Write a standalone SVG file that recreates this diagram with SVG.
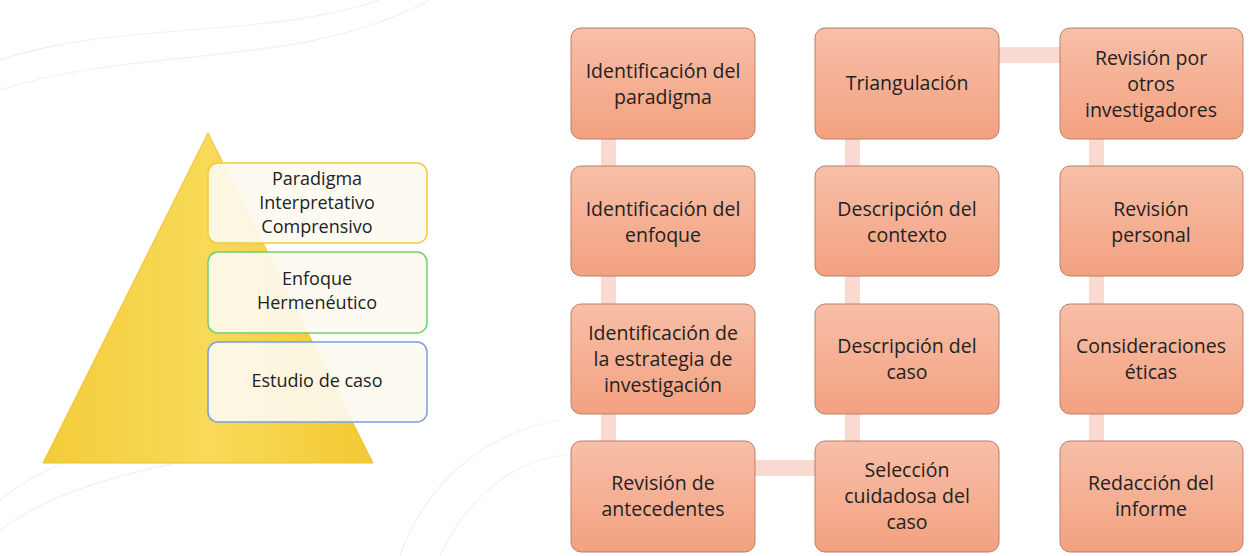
<svg xmlns="http://www.w3.org/2000/svg" width="1250" height="556" viewBox="0 0 1250 556">
<defs>
<linearGradient id="boxg" x1="0" y1="0" x2="0" y2="1">
<stop offset="0" stop-color="#f7bfa8"/>
<stop offset="1" stop-color="#f3a180"/>
</linearGradient>
<linearGradient id="pyr" x1="0" y1="0" x2="1" y2="0">
<stop offset="0" stop-color="#f3cc3a"/>
<stop offset="0.5" stop-color="#f8da58"/>
<stop offset="1" stop-color="#f3c934"/>
</linearGradient>
<style>
.box{fill:url(#boxg);stroke:#b8806a;stroke-width:1}
.t{font-family:"Open Sans","Liberation Sans",sans-serif;font-size:19.5px;fill:#222222;text-anchor:middle}
.p{font-family:"Open Sans","Liberation Sans",sans-serif;font-size:18px;fill:#222222;text-anchor:middle}
.lvl{fill:#fdfaf1;fill-opacity:0.9;stroke-width:1.5}
.con{fill:#f9d9d0}
.bg{fill:none;stroke:#f1f1f1;stroke-width:1.2}
</style>
</defs>
<rect width="1250" height="556" fill="#ffffff"/>
<g id="background">
<path class="bg" d="M0,60 C120,20 260,40 380,0"/>
<path class="bg" d="M0,90 C140,45 300,70 430,0"/>
<path class="bg" d="M0,500 C100,420 240,440 330,380"/>
<path class="bg" d="M0,530 C110,450 260,470 360,400"/>
<path class="bg" d="M400,556 C430,470 500,430 560,420"/>
<path class="bg" d="M440,556 C470,490 520,460 565,455"/>
</g>
<g id="connectors">
<rect class="con" x="601" y="139" width="15" height="302"/>
<rect class="con" x="845" y="139" width="15" height="302"/>
<rect class="con" x="1089" y="139" width="15" height="302"/>
<rect class="con" x="755" y="460" width="60" height="16"/>
<rect class="con" x="999" y="47" width="61" height="16"/>
</g>
<g id="pyramid">
<polygon points="208,133 43,463 373,463" fill="url(#pyr)" stroke="#e8c030" stroke-width="1"/>
</g>
<g id="lvl1"><rect class="lvl" x="208" y="163" width="219" height="80" rx="10" stroke="#f2c840"/>
<text class="p" x="317" y="185">Paradigma</text><text class="p" x="317" y="209">Interpretativo</text><text class="p" x="317" y="233">Comprensivo</text></g>
<g id="lvl2"><rect class="lvl" x="208" y="252" width="219" height="81" rx="10" stroke="#6fd070"/>
<text class="p" x="317" y="285">Enfoque</text><text class="p" x="317" y="309">Hermenéutico</text></g>
<g id="lvl3"><rect class="lvl" x="208" y="342" width="219" height="80" rx="10" stroke="#7a9ee0"/>
<text class="p" x="317" y="387">Estudio de caso</text></g>
<g id="n1"><rect class="box" x="571" y="28" width="184" height="111" rx="10"/><text class="t" x="663" y="78">Identificación del</text><text class="t" x="663" y="104">paradigma</text></g>
<g id="n2"><rect class="box" x="571" y="166" width="184" height="110" rx="10"/><text class="t" x="663" y="216">Identificación del</text><text class="t" x="663" y="242">enfoque</text></g>
<g id="n3"><rect class="box" x="571" y="304" width="184" height="110" rx="10"/><text class="t" x="663" y="340">Identificación de</text><text class="t" x="663" y="366">la estrategia de</text><text class="t" x="663" y="392">investigación</text></g>
<g id="n4"><rect class="box" x="571" y="441" width="184" height="111" rx="10"/><text class="t" x="663" y="490">Revisión de</text><text class="t" x="663" y="516">antecedentes</text></g>
<g id="n5"><rect class="box" x="815" y="28" width="184" height="111" rx="10"/><text class="t" x="907" y="90">Triangulación</text></g>
<g id="n6"><rect class="box" x="815" y="166" width="184" height="110" rx="10"/><text class="t" x="907" y="216">Descripción del</text><text class="t" x="907" y="242">contexto</text></g>
<g id="n7"><rect class="box" x="815" y="304" width="184" height="110" rx="10"/><text class="t" x="907" y="353">Descripción del</text><text class="t" x="907" y="379">caso</text></g>
<g id="n8"><rect class="box" x="815" y="441" width="184" height="111" rx="10"/><text class="t" x="907" y="477">Selección</text><text class="t" x="907" y="503">cuidadosa del</text><text class="t" x="907" y="529">caso</text></g>
<g id="n9"><rect class="box" x="1060" y="28" width="183" height="111" rx="10"/><text class="t" x="1151" y="65">Revisión por</text><text class="t" x="1151" y="91">otros</text><text class="t" x="1151" y="117">investigadores</text></g>
<g id="n10"><rect class="box" x="1060" y="166" width="183" height="110" rx="10"/><text class="t" x="1151" y="216">Revisión</text><text class="t" x="1151" y="242">personal</text></g>
<g id="n11"><rect class="box" x="1060" y="304" width="183" height="110" rx="10"/><text class="t" x="1151" y="353">Consideraciones</text><text class="t" x="1151" y="379">éticas</text></g>
<g id="n12"><rect class="box" x="1060" y="441" width="183" height="111" rx="10"/><text class="t" x="1151" y="490">Redacción del</text><text class="t" x="1151" y="516">informe</text></g>
</svg>
